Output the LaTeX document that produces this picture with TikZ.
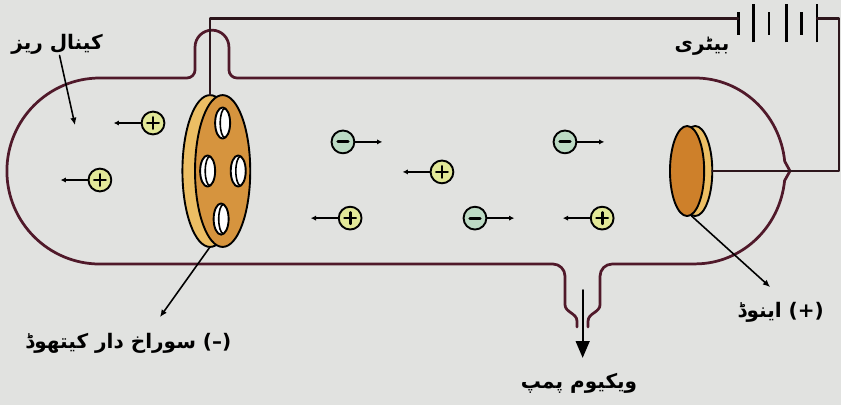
\documentclass[tikz,border=0pt]{standalone}
\usepackage{fontspec}
\usepackage{tikz}
\usetikzlibrary{arrows.meta,positioning}
\TeXXeTstate=1
\newfontfamily\urdufont[Script=Arabic]{DejaVu Sans}
\definecolor{paper}{RGB}{225,226,224}
\definecolor{glass}{RGB}{80,25,42}
\definecolor{wire}{RGB}{45,22,28}
\definecolor{face}{RGB}{214,148,62}
\definecolor{rim}{RGB}{236,190,100}
\definecolor{anodeface}{RGB}{206,128,42}
\definecolor{pluscol}{RGB}{226,232,152}
\definecolor{minuscol}{RGB}{188,218,196}

\tikzset{
  ion/.style={circle, draw=black, line width=1.8pt, minimum size=0.76cm, inner sep=0pt},
  plus ion/.style={ion, fill=pluscol, path picture={
    \draw[line width=2.6pt] ([xshift=-0.19cm]path picture bounding box.center) -- ([xshift=0.19cm]path picture bounding box.center)
      ([yshift=-0.19cm]path picture bounding box.center) -- ([yshift=0.19cm]path picture bounding box.center);}},
  minus ion/.style={ion, fill=minuscol, path picture={
    \draw[line width=3pt] ([xshift=-0.17cm]path picture bounding box.center) -- ([xshift=0.17cm]path picture bounding box.center);}},
  track/.style={line width=1.6pt, -{Latex[length=5pt,width=5pt]}},
  pointer/.style={line width=1.5pt, -{Latex[length=7pt,width=6pt]}},
  urdu/.style={font={\urdufont\bfseries\fontsize{19}{22}\selectfont}, inner sep=1pt}
}

\begin{document}
\begin{tikzpicture}[line join = round, line cap = round]
\fill[paper] (0,0) rectangle (28.03,13.5);
\useasboundingbox (0,0) rectangle (28.03,13.5);

% glass tube, from the left wall of the pump stem all the way round
\draw[glass, line width=2.6pt]
  (19.23,2.6) -- (19.23,2.8) to[out=90,in=-90] (18.83,3.35) -- (18.83,4.3)
  arc (0:90:0.4) -- (3.33,4.7) arc (270:90:3.1)
  -- (6.23,10.9) arc (270:360:0.27) -- (6.5,11.93) arc (180:0:0.565)
  -- (7.63,11.17) arc (180:270:0.27) -- (23.17,10.9)
  arc (90:6:3.0 and 3.1) -- (26.33,7.8) -- (26.15,7.48) arc (-6:-90:3.0 and 3.1)
  -- (20.4,4.7) arc (90:180:0.4) -- (20.0,3.35) to[out=-90,in=90] (19.6,2.8) -- (19.6,2.6);

% cathode with holes
\coordinate (cathode) at (7.42,7.8);
\coordinate (cathode top) at (7.0,10.33);
\coordinate (cathode foot) at (7.0,5.27);
\filldraw[fill=rim, line width=1.8pt] (7.0,7.8) ellipse (0.92 and 2.53);
\filldraw[fill=face, line width=1.8pt] (cathode) ellipse (0.92 and 2.53);
\foreach \dx/\dy in {0/1.6, -0.5/0, 0.52/0, -0.05/-1.6}{
  \filldraw[fill=white, line width=1.8pt, shift={(cathode)}] (\dx,\dy) ellipse (0.25 and 0.52);
  \draw[line width=1.5pt, shift={(cathode)}] (\dx+0.07,\dy+0.48) arc (90:270:0.15 and 0.48);
}

% anode
\coordinate (anode) at (22.9,7.8);
\coordinate (anode lead) at (23.74,7.8);
\coordinate (anode foot) at (23.05,6.3);
\filldraw[fill=rim, line width=1.8pt] (23.17,7.8) ellipse (0.57 and 1.5);
\filldraw[fill=anodeface, line width=1.8pt] (anode) ellipse (0.57 and 1.5);

% battery
\coordinate (bat minus) at (24.6,12.88);
\coordinate (bat plus) at (27.23,12.88);
\coordinate (edge) at (27.97,7.8);
\foreach \x/\h in {24.6/0.37, 25.1/0.63, 25.63/0.37, 26.2/0.63, 26.7/0.37, 27.23/0.63}
  \draw[line width=2.8pt, line cap=butt] (\x,12.72-\h) -- (\x,12.72+\h);

\draw[wire, line width=2.2pt] (cathode top) |- (bat minus);
\draw[wire, line width=2.2pt] (bat plus) -| (edge) -- (anode lead);

% positive rays move left, electrons move right
\foreach \x/\y [count=\i] in {5.1/9.4, 3.33/7.5, 14.73/7.77, 11.67/6.23, 20.07/6.23}{
  \node[plus ion] (p\i) at (\x,\y) {};
  \coordinate[left=0.9cm of p\i] (pt\i);
  \draw[track] (p\i) -- (pt\i);
}
\foreach \x/\y [count=\i] in {11.43/8.77, 18.83/8.77, 15.83/6.23}{
  \node[minus ion] (m\i) at (\x,\y) {};
  \coordinate[right=0.9cm of m\i] (mt\i);
  \draw[track] (m\i) -- (mt\i);
}

% labels
\node[urdu] (canal) at (1.9,12.03) {\beginR کینال ریز\endR};
\coordinate (canal tip) at (2.5,9.33);
\draw[pointer] (canal) -- (canal tip);

\node[urdu] (battery) at (23.4,11.97) {\beginR بیٹری\endR};

\node[urdu, anchor=east] (cathode label) at (7.75,2.07) {\beginR سوراخ دار کیتھوڈ\endR\ (–)};
\coordinate (cathode tip) at (5.33,2.93);
\draw[pointer] (cathode foot) -- (cathode tip);

\node[urdu, anchor=east] (anode label) at (27.5,3.1) {\beginR اینوڈ\endR\ (+)};
\coordinate (anode tip) at (25.67,3.93);
\draw[pointer] (anode foot) -- (anode tip);

\coordinate (pump top) at (19.42,3.83);
\coordinate (pump tip) at (19.42,1.57);
\draw[line width=2pt, -{Triangle[length=16pt,width=13pt]}] (pump top) -- (pump tip);
\node[urdu] (pump) at (19.3,0.73) {\beginR ویکیوم پمپ\endR};
\end{tikzpicture}
\end{document}
